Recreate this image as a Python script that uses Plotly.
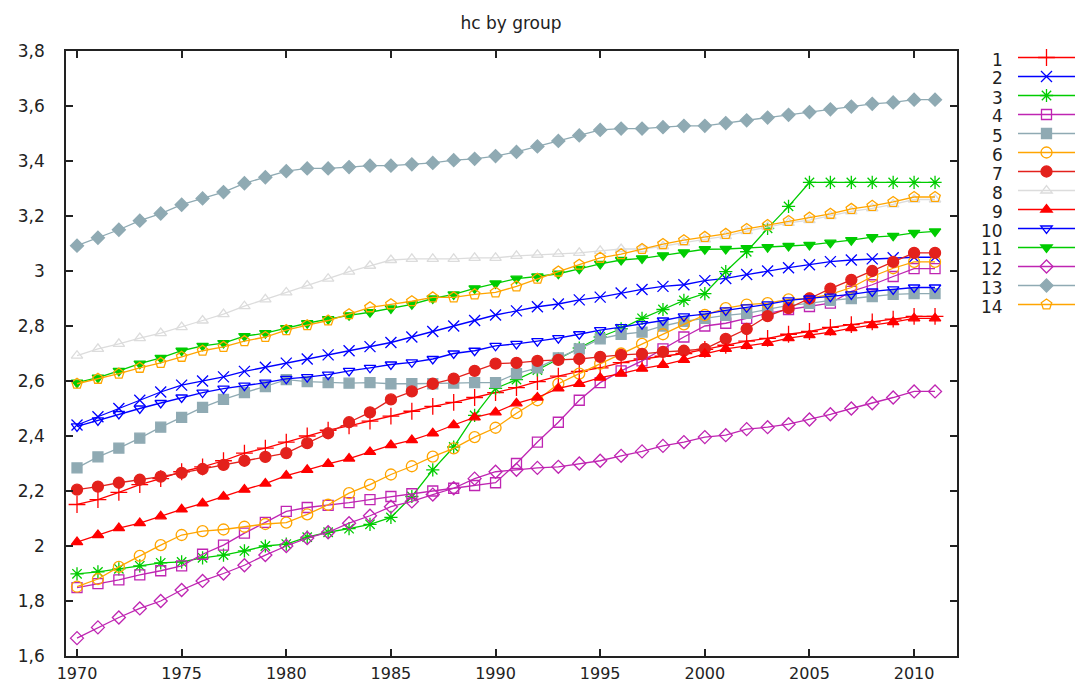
import plotly.graph_objects as go

years = [1970, 1971, 1972, 1973, 1974, 1975, 1976, 1977, 1978, 1979,
         1980, 1981, 1982, 1983, 1984, 1985, 1986, 1987, 1988, 1989,
         1990, 1991, 1992, 1993, 1994, 1995, 1996, 1997, 1998, 1999,
         2000, 2001, 2002, 2003, 2004, 2005, 2006, 2007, 2008, 2009,
         2010, 2011]

s1 = [2.151, 2.169, 2.195, 2.223, 2.245, 2.27, 2.288, 2.31, 2.338, 2.356,
      2.378, 2.40, 2.421, 2.437, 2.454, 2.472, 2.49, 2.508, 2.522, 2.54,
      2.558, 2.576, 2.598, 2.618, 2.635, 2.648, 2.667, 2.68, 2.69, 2.70,
      2.715, 2.73, 2.745, 2.755, 2.77, 2.78, 2.795, 2.805, 2.815, 2.825,
      2.835, 2.835]
s2 = [2.44, 2.47, 2.50, 2.53, 2.56, 2.585, 2.60, 2.615, 2.635, 2.65,
      2.665, 2.68, 2.695, 2.71, 2.725, 2.74, 2.76, 2.78, 2.80, 2.82,
      2.84, 2.855, 2.87, 2.88, 2.895, 2.905, 2.92, 2.933, 2.944, 2.95,
      2.965, 2.973, 2.987, 3.0, 3.012, 3.023, 3.034, 3.04, 3.044, 3.048,
      3.05, 3.05]
s3 = [1.899, 1.906, 1.917, 1.928, 1.939, 1.942, 1.957, 1.967, 1.982, 2.0,
      2.007, 2.032, 2.05, 2.063, 2.079, 2.104, 2.18, 2.277, 2.36, 2.475,
      2.573, 2.605, 2.64, 2.68, 2.72, 2.76, 2.79, 2.828, 2.86, 2.893,
      2.918, 2.998, 3.07, 3.155, 3.235, 3.322, 3.322, 3.322, 3.322, 3.322,
      3.322, 3.322]
s4 = [1.849, 1.863, 1.877, 1.895, 1.91, 1.928, 1.97, 2.003, 2.047, 2.086,
      2.126, 2.14, 2.148, 2.158, 2.169, 2.18, 2.19, 2.2, 2.21, 2.22,
      2.23, 2.30, 2.378, 2.45, 2.53, 2.594, 2.637, 2.673, 2.717, 2.76,
      2.80, 2.81, 2.828, 2.846, 2.86, 2.871, 2.883, 2.926, 2.95, 2.98,
      3.009, 3.009]
s5 = [2.284, 2.324, 2.356, 2.392, 2.432, 2.468, 2.504, 2.533, 2.558, 2.58,
      2.605, 2.598, 2.594, 2.592, 2.594, 2.59, 2.59, 2.59, 2.592, 2.594,
      2.594, 2.627, 2.648, 2.684, 2.717, 2.753, 2.77, 2.778, 2.80, 2.817,
      2.828, 2.839, 2.846, 2.86, 2.875, 2.882, 2.893, 2.90, 2.907, 2.915,
      2.918, 2.918]
s6 = [1.852, 1.88, 1.924, 1.964, 2.003, 2.04, 2.054, 2.06, 2.07, 2.08,
      2.085, 2.115, 2.15, 2.192, 2.223, 2.26, 2.29, 2.325, 2.355, 2.396,
      2.43, 2.483, 2.53, 2.59, 2.627, 2.663, 2.70, 2.735, 2.77, 2.806,
      2.84, 2.865, 2.878, 2.883, 2.897, 2.90, 2.915, 2.94, 2.98, 3.01,
      3.033, 3.033]
s7 = [2.205, 2.216, 2.23, 2.241, 2.252, 2.266, 2.28, 2.295, 2.31, 2.324,
      2.338, 2.374, 2.41, 2.45, 2.486, 2.533, 2.562, 2.59, 2.609, 2.637,
      2.663, 2.666, 2.673, 2.677, 2.68, 2.688, 2.695, 2.699, 2.706, 2.71,
      2.717, 2.753, 2.789, 2.836, 2.865, 2.90, 2.936, 2.968, 3.0, 3.033,
      3.066, 3.066]
s8 = [2.692, 2.717, 2.735, 2.756, 2.774, 2.796, 2.82, 2.843, 2.872, 2.897,
      2.922, 2.947, 2.972, 2.998, 3.019, 3.04, 3.044, 3.044, 3.044, 3.048,
      3.048, 3.055, 3.059, 3.062, 3.066, 3.073, 3.08, 3.08, 3.09, 3.103,
      3.115, 3.127, 3.145, 3.16, 3.175, 3.185, 3.2, 3.217, 3.228, 3.242,
      3.26, 3.26]
s9 = [2.014, 2.04, 2.065, 2.083, 2.108, 2.133, 2.155, 2.18, 2.205, 2.227,
      2.256, 2.277, 2.299, 2.318, 2.342, 2.367, 2.385, 2.41, 2.44, 2.468,
      2.486, 2.519, 2.54, 2.573, 2.59, 2.612, 2.627, 2.645, 2.659, 2.677,
      2.699, 2.717, 2.728, 2.739, 2.756, 2.767, 2.778, 2.792, 2.803, 2.814,
      2.828, 2.828]
s10 = [2.435, 2.457, 2.48, 2.50, 2.52, 2.54, 2.558, 2.572, 2.583, 2.594,
       2.608, 2.614, 2.623, 2.637, 2.648, 2.66, 2.668, 2.68, 2.70, 2.71,
       2.728, 2.735, 2.745, 2.756, 2.77, 2.785, 2.796, 2.807, 2.82, 2.835,
       2.843, 2.857, 2.868, 2.879, 2.893, 2.90, 2.907, 2.915, 2.926, 2.933,
       2.94, 2.94]
s11 = [2.594, 2.612, 2.637, 2.663, 2.684, 2.71, 2.728, 2.738, 2.763, 2.774,
       2.792, 2.81, 2.825, 2.839, 2.85, 2.864, 2.879, 2.90, 2.915, 2.937,
       2.955, 2.972, 2.98, 2.99, 3.008, 3.026, 3.04, 3.046, 3.057, 3.068,
       3.079, 3.08, 3.083, 3.087, 3.091, 3.095, 3.103, 3.112, 3.123, 3.128,
       3.139, 3.144]
s12 = [1.665, 1.704, 1.74, 1.773, 1.80, 1.84, 1.873, 1.90, 1.93, 1.967,
       2.0, 2.029, 2.05, 2.083, 2.11, 2.143, 2.162, 2.187, 2.21, 2.245,
       2.27, 2.277, 2.284, 2.288, 2.30, 2.31, 2.328, 2.344, 2.364, 2.378,
       2.396, 2.403, 2.425, 2.432, 2.443, 2.46, 2.479, 2.50, 2.519, 2.54,
       2.562, 2.562]
s13 = [3.092, 3.121, 3.15, 3.183, 3.209, 3.241, 3.264, 3.287, 3.319, 3.341,
       3.363, 3.373, 3.373, 3.378, 3.383, 3.383, 3.388, 3.393, 3.403, 3.408,
       3.418, 3.433, 3.453, 3.473, 3.493, 3.513, 3.518, 3.518, 3.523, 3.528,
       3.528, 3.538, 3.548, 3.558, 3.568, 3.578, 3.588, 3.598, 3.608, 3.613,
       3.623, 3.623]
s14 = [2.59, 2.608, 2.627, 2.648, 2.666, 2.688, 2.71, 2.724, 2.745, 2.76,
       2.785, 2.803, 2.82, 2.843, 2.868, 2.879, 2.89, 2.904, 2.904, 2.915,
       2.922, 2.944, 2.972, 2.998, 3.023, 3.048, 3.061, 3.08, 3.098, 3.112,
       3.124, 3.135, 3.153, 3.167, 3.182, 3.194, 3.208, 3.226, 3.237, 3.251,
       3.269, 3.269]

series_names = ["1", "2", "3", "4", "5", "6", "7", "8", "9", "10", "11", "12", "13", "14"]
series_values = [s1, s2, s3, s4, s5, s6, s7, s8, s9, s10, s11, s12, s13, s14]

colors = ["#ff0000", "#0000ff", "#00cc00", "#bf25b2", "#8faab3", "#ffa500",
          "#e3211c", "#dcdcdc", "#ff0000", "#0000ff", "#00cc00", "#bf25b2",
          "#8faab3", "#ffa500"]
symbols = ["cross-thin-open", "x-thin-open", "asterisk-open", "square-open",
           "square", "circle-open", "circle", "triangle-up-open", "triangle-up",
           "triangle-down-open", "triangle-down", "diamond-open", "diamond",
           "pentagon-open"]
sizes = [12, 11, 11, 10, 10, 11, 11, 10, 10, 10, 10, 10, 10, 11]

FONT = "DejaVu Sans, Verdana, sans-serif"

fig = go.Figure()
for name, vals, col, sym, sz in zip(series_names, series_values, colors, symbols, sizes):
    fig.add_trace(go.Scatter(
        x=years, y=vals, mode="lines+markers", name="",
        line=dict(color=col, width=1.3),
        marker=dict(symbol=sym, size=sz, color=col,
                    line=dict(color=col, width=1.3)),
        showlegend=True,
    ))

W, H = 1076, 685
ml, mr, mt, mb = 66, 119, 51, 29
plot_w = W - ml - mr
plot_h = H - mt - mb

# legend labels (right aligned, gnuplot style)
annotations = []
legend_top_px = 43
first_item_px = 59.5
item_h = 19
for i, name in enumerate(series_names):
    ypx = first_item_px + i * item_h
    annotations.append(dict(
        text=name, xref="paper", yref="paper",
        x=(1005 - ml) / plot_w, y=(H - mb - ypx) / plot_h,
        xanchor="right", yanchor="middle", showarrow=False,
        font=dict(family=FONT, size=17, color="#222222"),
    ))

axis_common = dict(
    showgrid=False, zeroline=False, showline=True, mirror="ticks",
    linecolor="#222222", linewidth=1.5, ticks="inside", ticklen=7,
    tickwidth=1.5, tickcolor="#222222",
)

fig.update_layout(
    width=W, height=H,
    margin=dict(l=ml, r=mr, t=mt, b=mb, pad=0, autoexpand=False),
    paper_bgcolor="white", plot_bgcolor="white",
    separators=", ",
    title=dict(text="hc by group", x=(511) / W, xanchor="center",
               y=1 - 23 / H, yanchor="middle",
               font=dict(family=FONT, size=17, color="#222222")),
    xaxis=dict(range=[1969.474, 2012.05], tick0=1970, dtick=5,
               ticklabelstandoff=2,
               tickfont=dict(family=FONT, size=16, color="#222222"),
               **axis_common),
    yaxis=dict(range=[1.6, 3.8], tick0=1.6, dtick=0.2,
               ticklabelstandoff=16,
               tickfont=dict(family=FONT, size=17, color="#222222"),
               **axis_common),
    legend=dict(xref="container", yref="container",
                x=1013 / W, xanchor="left",
                y=(H - legend_top_px) / H, yanchor="top",
                bgcolor="rgba(0,0,0,0)", borderwidth=0,
                font=dict(family=FONT, size=12), itemwidth=57,
                tracegroupgap=0),
    annotations=annotations,
)

fig.write_html("out.html")
